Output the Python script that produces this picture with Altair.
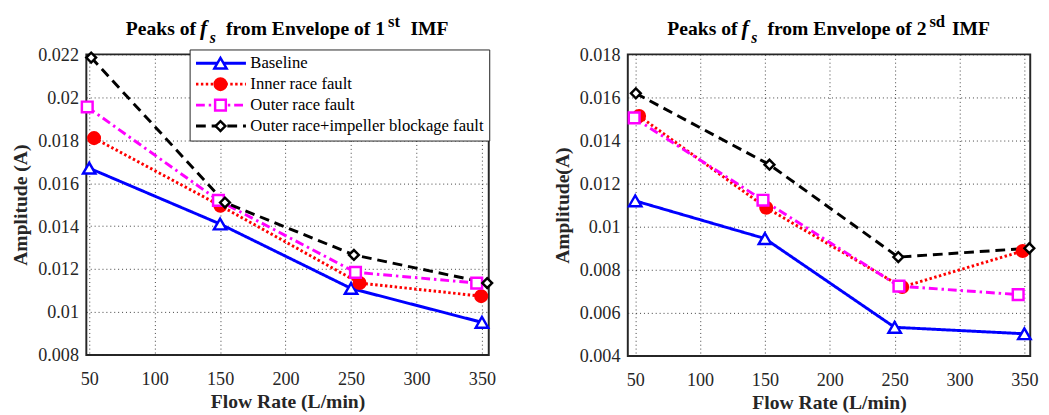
import altair as alt
import pandas as pd

# ---------------- data ----------------
series = ["Baseline", "Inner race fault", "Outer race fault",
          "Outer race+impeller blockage fault"]

# Panel 1: peaks of f_s from envelope of 1st IMF
imf1_flow_baseline = [50, 150, 250, 350]
imf1_amp_baseline = [0.0167, 0.0141, 0.0111, 0.00952]
imf1_flow_inner = [53.7, 150.2, 256.5, 349.4]
imf1_amp_inner = [0.0181, 0.01495, 0.01135, 0.01074]
imf1_flow_outer = [48.5, 148.7, 253.4, 346.0]
imf1_amp_outer = [0.01955, 0.0152, 0.01185, 0.01135]
imf1_flow_blockage = [51.5, 153.7, 252.2, 354.0]
imf1_amp_blockage = [0.02185, 0.0151, 0.01266, 0.01135]

# Panel 2: peaks of f_s from envelope of 2nd IMF
imf2_flow_baseline = [50, 150, 250, 350]
imf2_amp_baseline = [0.0112, 0.00945, 0.00533, 0.00503]
imf2_flow_inner = [53.0, 151.0, 255.8, 348.7]
imf2_amp_inner = [0.01514, 0.01088, 0.0072, 0.00887]
imf2_flow_outer = [49.2, 148.5, 253.3, 345.2]
imf2_amp_outer = [0.01505, 0.01123, 0.00724, 0.00685]
imf2_flow_blockage = [50.5, 153.5, 252.8, 353.8]
imf2_amp_blockage = [0.01619, 0.01288, 0.00859, 0.0090]

flow_ticks = [50, 100, 150, 200, 250, 300, 350]
amp_ticks_1 = [0.008, 0.010, 0.012, 0.014, 0.016, 0.018, 0.020, 0.022]
amp_ticks_2 = [0.004, 0.006, 0.008, 0.010, 0.012, 0.014, 0.016, 0.018]

# ---------------- styles ----------------
colors = ["#0000FF", "#FF0000", "#FF00FF", "#000000"]
dashes = [[1, 0], [2.5, 2.5], [9, 4, 2.5, 4], [10, 6]]
shapes = ["triangle-up", "circle", "square", "diamond"]
fills = ["#FFFFFF", "#FF0000", "#FFFFFF", "#FFFFFF"]
sizes = [160, 100, 95, 150]

SERIF = "Liberation Serif"
TXT = "#262626"

marker_series = [s + " " for s in series]


def make_df(flows, amps):
    rows = []
    for name, fx, ay in zip(series, flows, amps):
        for f, a in zip(fx, ay):
            rows.append({"flow": f, "amp": a, "series": name, "series_m": name + " "})
    return pd.DataFrame(rows)


df1 = make_df([imf1_flow_baseline, imf1_flow_inner, imf1_flow_outer, imf1_flow_blockage],
              [imf1_amp_baseline, imf1_amp_inner, imf1_amp_outer, imf1_amp_blockage])
df2 = make_df([imf2_flow_baseline, imf2_flow_inner, imf2_flow_outer, imf2_flow_blockage],
              [imf2_amp_baseline, imf2_amp_inner, imf2_amp_outer, imf2_amp_blockage])


def title_layers(ordinal, sup, base_y):
    one = pd.DataFrame({"k": [0]})
    segs = [
        ("Peaks of", 112, 0, 20, "normal", "right"),
        ("f", 116, 0, 22, "italic", "left"),
        ("s", 126, 8, 16, "italic", "left"),
        ("from Envelope of " + ordinal, 305, 0, 20, "normal", "right"),
        (sup, 308, -8, 17, "normal", "left"),
        ("IMF", 331, 0, 20, "normal", "left"),
    ]
    out = []
    for text, x, dy, fs, style, align in segs:
        out.append(
            alt.Chart(one).mark_text(
                text=text, font=SERIF, fontSize=fs, fontWeight="bold",
                fontStyle=style, align=align, baseline="alphabetic", color="black"
            ).encode(x=alt.value(x), y=alt.value(base_y + dy))
        )
    return out


def panel(df, xdom, ydom, yticks, ytitle, w, h, ordinal, sup, base_y, show_legend):
    x = alt.X("flow:Q", scale=alt.Scale(domain=xdom, nice=False, zero=False),
              axis=alt.Axis(values=flow_ticks, title="Flow Rate (L/min)", grid=True,
                            gridDash=[1, 3], gridColor=TXT, gridOpacity=0.9,
                            ticks=False, domain=False, labelFont=SERIF, labelFontSize=18.5,
                            labelColor=TXT, labelPadding=15, labelFlush=False,
                            titleFont=SERIF, titleFontSize=20, titleFontWeight="bold",
                            titleColor=TXT, titlePadding=4))
    y = alt.Y("amp:Q", scale=alt.Scale(domain=ydom, nice=False, zero=False),
              axis=alt.Axis(values=yticks, format="~g", title=ytitle, grid=True,
                            gridDash=[1, 3], gridColor=TXT, gridOpacity=0.9,
                            ticks=False, domain=False, labelFont=SERIF, labelFontSize=18.5,
                            labelColor=TXT, labelPadding=8, labelFlush=False,
                            titleFont=SERIF, titleFontSize=20, titleFontWeight="bold",
                            titleColor=TXT, titlePadding=7))
    if show_legend:
        leg_line = alt.Legend(orient="none", legendX=105.5, legendY=-5, title=None,
                              symbolType="stroke", symbolSize=2601, symbolStrokeWidth=3,
                              clipHeight=18, rowPadding=3.4, padding=5, labelOffset=3,
                              labelFont=SERIF, labelFontSize=17, labelColor="black",
                              strokeColor=TXT, fillColor="white", labelLimit=400)
        leg_mark = alt.Legend(orient="none", legendX=123.5, legendY=-5, title=None,
                              symbolStrokeWidth=2.5, clipHeight=18, rowPadding=3.4,
                              padding=5, labelOffset=3, labelFont=SERIF,
                              labelFontSize=17, labelExpr="' '", labelLimit=400)
    else:
        leg_line = None
        leg_mark = None

    color = alt.Color("series:N", sort=series,
                      scale=alt.Scale(domain=series, range=colors), legend=leg_line)
    dash = alt.StrokeDash("series:N", sort=series,
                          scale=alt.Scale(domain=series, range=dashes), legend=leg_line)
    lines = alt.Chart(df).mark_line(strokeWidth=3).encode(x=x, y=y, color=color,
                                                          strokeDash=dash)
    pts = alt.Chart(df).mark_point(strokeWidth=2.5, opacity=1).encode(
        x=x, y=y,
        shape=alt.Shape("series_m:N", scale=alt.Scale(domain=marker_series, range=shapes),
                        legend=leg_mark),
        stroke=alt.Stroke("series_m:N", scale=alt.Scale(domain=marker_series, range=colors),
                          legend=leg_mark),
        fill=alt.Fill("series_m:N", scale=alt.Scale(domain=marker_series, range=fills),
                      legend=leg_mark),
        size=alt.Size("series_m:N", scale=alt.Scale(domain=marker_series, range=sizes),
                      legend=leg_mark),
    )
    return alt.layer(lines, pts, *title_layers(ordinal, sup, base_y)).properties(
        width=w, height=h)


left = panel(df1, [47.8, 355.2], [0.008, 0.022], amp_ticks_1, "Amplitude (A)",
             411, 307, "1", "st", -20, True)
right = panel(df2, [44.3, 354.5], [0.004, 0.018], amp_ticks_2, "Amplitude(A)",
              411, 308, "2", "sd", -20, False)

chart = alt.hconcat(left, right, spacing=54).resolve_scale(
    x="independent", y="independent", color="independent",
    strokeDash="independent", shape="independent", stroke="independent",
    fill="independent", size="independent"
).properties(
    padding={"left": 2, "top": 0, "right": 0, "bottom": 0},
    background="white",
).configure_view(stroke=TXT, strokeWidth=2)

chart.save("out.html", embed_options={"renderer": "svg", "actions": False})
